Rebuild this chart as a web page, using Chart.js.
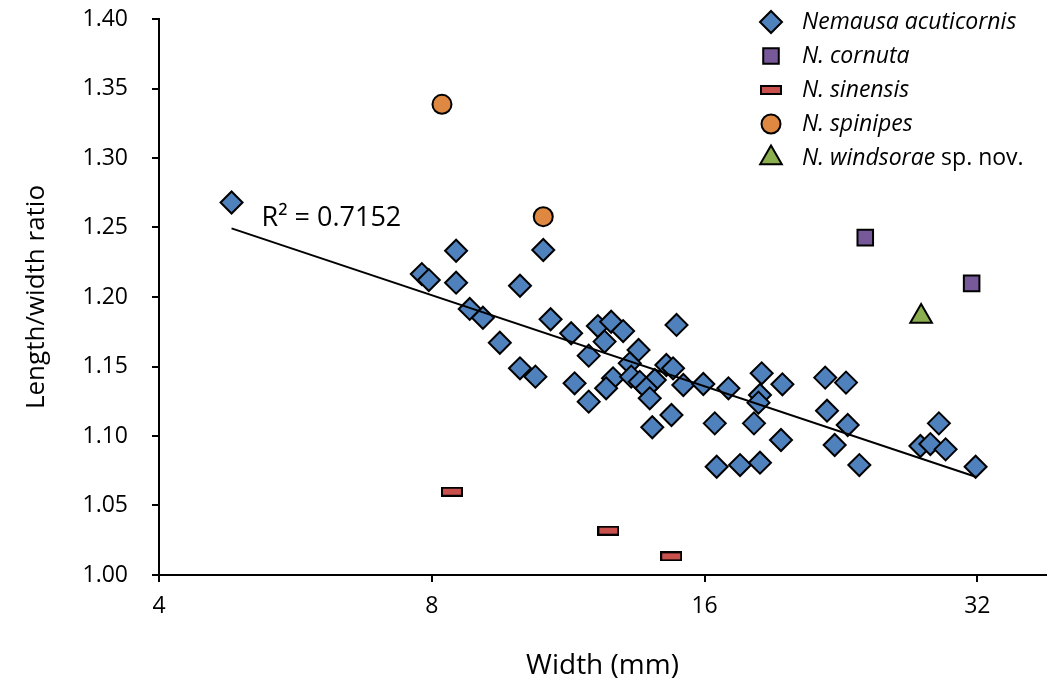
<!DOCTYPE html>
<html>
<head>
<meta charset="utf-8">
<script src="https://cdn.jsdelivr.net/npm/chart.js@4.4.0/dist/chart.umd.min.js"></script>
<style>
  html, body { margin: 0; background: #fff; overflow: hidden; }
  canvas { display: block; }
</style>
</head>
<body>
<canvas id="myChart" width="1052" height="683"></canvas>
<script>
// values
var acutiWidth = [4.81, 7.80, 7.94, 8.51, 8.51, 10.62, 10.01, 8.81, 9.11, 10.82,
  11.40, 9.51, 10.01, 10.41, 11.50, 12.20, 12.62, 13.01, 12.41, 11.92,
  13.53, 14.90, 13.23, 14.52, 14.77, 12.68, 13.28, 13.57, 14.10, 13.80,
  13.92, 12.46, 11.92, 15.16, 15.95, 17.00, 14.71, 14.01, 16.42, 16.50,
  18.50, 18.42, 18.35, 19.50, 18.14, 19.43, 17.51, 18.42, 21.74, 22.92,
  21.84, 23.02, 22.27, 23.71, 31.86, 29.02, 27.69, 28.40, 29.52];
var acutiRatio = [1.268, 1.2165, 1.2122, 1.2333, 1.2103, 1.2338, 1.2081, 1.1914, 1.1851, 1.184,
  1.1739, 1.1671, 1.1487, 1.1427, 1.1379, 1.1791, 1.1822, 1.1755, 1.1679, 1.1578,
  1.1619, 1.1799, 1.1523, 1.1511, 1.1487, 1.1415, 1.1427, 1.139, 1.1403, 1.1343,
  1.1271, 1.1343, 1.1247, 1.1367, 1.1374, 1.1343, 1.1151, 1.1063, 1.1091, 1.0779,
  1.1451, 1.1295, 1.124, 1.1372, 1.1091, 1.0971, 1.0791, 1.0808, 1.142, 1.1384,
  1.1182, 1.1079, 1.0935, 1.0791, 1.0779, 1.1091, 1.0928, 1.0942, 1.0904];
var cornutaWidth = [24.07, 31.54];
var cornutaRatio = [1.2427, 1.2098];
var sinensisWidth = [8.42, 12.53, 14.70];
var sinensisRatio = [1.0599, 1.0319, 1.0134];
var spinipesWidth = [8.21, 10.62];
var spinipesRatio = [1.3386, 1.2578];
var windsoraeWidth = [27.74];
var windsoraeRatio = [1.186];
var trendWidth = [4.81, 31.86];
var trendRatio = [1.2494, 1.0707];
var xTicks = [4, 8, 16, 32];
var seriesNames = ["Nemausa acuticornis", "N. cornuta", "N. sinensis", "N. spinipes", "N. windsorae"];
var rSquared = "R\u00B2 = 0.7152";

var fontName = "'Open Sans', 'Noto Sans', sans-serif";

function pairs(xs, ys) {
  return xs.map(function (x, i) { return { x: x, y: ys[i] }; });
}

// flat bar marker for N. sinensis
var barMark = document.createElement("canvas");
barMark.width = 22;
barMark.height = 10;
(function () {
  var c = barMark.getContext("2d");
  c.fillStyle = "#000";
  c.fillRect(0, 0, 22, 10);
  c.fillStyle = "#C8504D";
  c.fillRect(2, 2, 18, 6);
})();

function pointSet(label, xs, ys, color, style, radius) {
  return {
    label: label,
    data: pairs(xs, ys),
    pointStyle: style,
    pointRadius: radius,
    pointHoverRadius: radius,
    pointBackgroundColor: color,
    pointBorderColor: "#000",
    pointBorderWidth: 2,
    order: 1
  };
}

function noPadding(scale) {
  scale.paddingTop = 0;
  scale.paddingBottom = 0;
  scale.paddingLeft = 0;
  scale.paddingRight = 0;
}

var legendPlugin = {
  id: "sideLegend",
  afterDraw: function (chart) {
    var ctx = chart.ctx;
    var ds = chart.data.datasets;
    var top = 22, step = 34;
    ctx.save();
    for (var i = 0; i < 5; i++) {
      var d = ds[i];
      var y = top + i * step;
      ctx.fillStyle = d.pointBackgroundColor;
      ctx.strokeStyle = "#000";
      ctx.lineWidth = 2;
      Chart.helpers.drawPoint(ctx, {
        pointStyle: d.pointStyle,
        radius: d.pointRadius,
        rotation: 0,
        borderWidth: 2
      }, 771, y);
      ctx.fillStyle = "#000";
      ctx.textBaseline = "middle";
      ctx.textAlign = "left";
      ctx.font = "italic 23px " + fontName;
      ctx.fillText(seriesNames[i], 802, y);
      if (i === 4) {
        var w = ctx.measureText(seriesNames[i]).width;
        ctx.font = "23px " + fontName;
        ctx.fillText(" sp. nov.", 802 + w, y);
      }
    }
    // R squared label beside the trend line
    var xs = chart.scales.x, ys = chart.scales.y;
    ctx.font = "27px " + fontName;
    ctx.fillText(rSquared, xs.getPixelForValue(5.19), ys.getPixelForValue(1.2568));
    ctx.restore();
  }
};

new Chart("myChart", {
  type: "scatter",
  data: {
    datasets: [
      pointSet(seriesNames[0], acutiWidth, acutiRatio, "#4F81BD", "rectRot", 11),
      pointSet(seriesNames[1], cornutaWidth, cornutaRatio, "#77599A", "rect", 11),
      pointSet(seriesNames[2], sinensisWidth, sinensisRatio, "#C8504D", barMark, 6),
      pointSet(seriesNames[3], spinipesWidth, spinipesRatio, "#DE8841", "circle", 9.5),
      pointSet(seriesNames[4], windsoraeWidth, windsoraeRatio, "#8BAE4F", "triangle", 12.5),
      {
        type: "line",
        label: "trend",
        data: pairs(trendWidth, trendRatio),
        borderColor: "#000",
        borderWidth: 2,
        pointRadius: 0,
        showLine: true,
        fill: false,
        order: 0
      }
    ]
  },
  options: {
    responsive: false,
    animation: false,
    layout: { autoPadding: false, padding: { top: 19, right: 6, left: 0, bottom: 0 } },
    plugins: {
      legend: { display: false },
      tooltip: { enabled: false }
    },
    scales: {
      x: {
        type: "logarithmic",
        min: 4,
        max: 38.1,
        afterBuildTicks: function (scale) {
          scale.ticks = xTicks.map(function (v) { return { value: v }; });
        },
        afterFit: function (scale) { scale.height = 108; noPadding(scale); },
        grid: { display: true, drawOnChartArea: false, drawTicks: true, tickLength: 7, color: "#000", lineWidth: 2 },
        border: { display: true, color: "#000", width: 2 },
        ticks: {
          autoSkip: false,
          maxRotation: 0,
          padding: 11,
          color: "#000",
          font: { family: fontName, size: 23 },
          callback: function (v) { return String(v); }
        },
        title: {
          display: true,
          text: "Width (mm)",
          color: "#000",
          font: { family: fontName, size: 28 },
          padding: { top: 1, bottom: 0 }
        }
      },
      y: {
        min: 1.0,
        max: 1.4,
        afterFit: function (scale) { scale.width = 159; noPadding(scale); },
        grid: { display: true, drawOnChartArea: false, drawTicks: true, tickLength: 7, color: "#000", lineWidth: 2 },
        border: { display: true, color: "#000", width: 2 },
        ticks: {
          stepSize: 0.05,
          padding: 24,
          color: "#000",
          font: { family: fontName, size: 23 },
          callback: function (v) { return Number(v).toFixed(2); }
        },
        title: {
          display: true,
          text: "Length/width ratio",
          color: "#000",
          font: { family: fontName, size: 26 },
          padding: { top: 21, bottom: 0 }
        }
      }
    }
  },
  plugins: [legendPlugin]
});
</script>
</body>
</html>
